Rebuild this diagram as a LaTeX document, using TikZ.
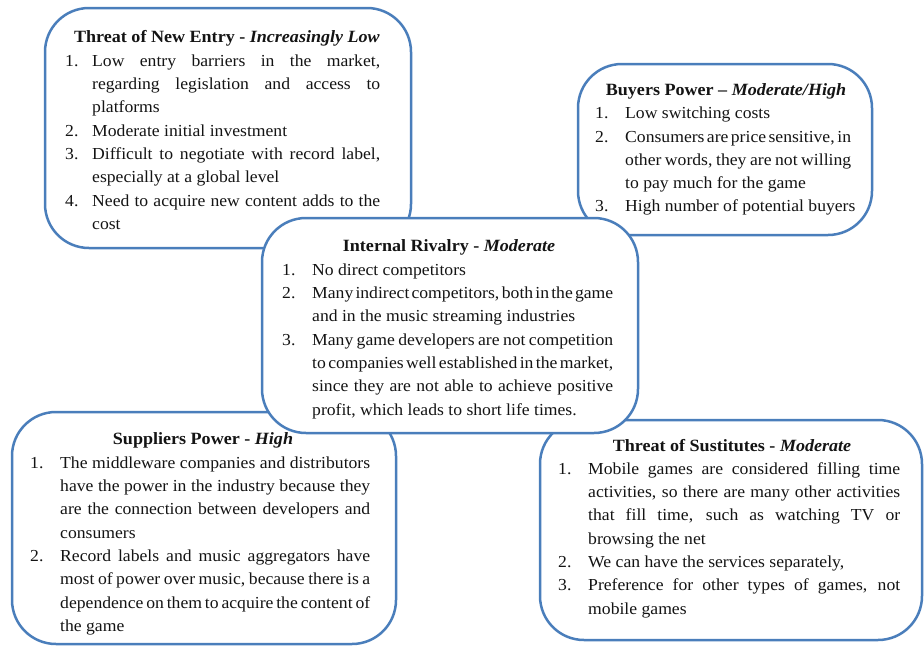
\documentclass[tikz,border=0pt]{standalone}
\usepackage{fontspec}
\setmainfont{Liberation Serif}[FakeStretch=1.05]
\definecolor{edge}{RGB}{74,126,187}
\definecolor{ink}{RGB}{20,20,20}
\newlength\lw
\newlength\jw
\newcommand{\J}[1]{\makebox[\jw][s]{\spaceskip=.25em plus 1fil minus .17em\relax #1}}
\newcommand{\lab}[1]{\makebox[\lw][l]{#1}}
\newcommand{\ind}{\hspace*{\lw}}
\newcommand{\setup}[2]{\setlength\lw{#1}\setlength\jw{#2}\spaceskip=0pt\xspaceskip=0pt\noindent\strut}
\begin{document}
\begin{tikzpicture}[x=1pt,y=-1pt,
  pbox/.style={draw=edge, line width=2.5pt, rounded corners=44pt, fill=white, inner sep=0pt},
  ptext/.style={anchor=north west, inner sep=0pt, align=left, text=ink,
    font=\fontsize{16.8}{23.3}\selectfont},
  ptitle/.style={anchor=base, inner sep=0pt, text=ink, font=\fontsize{17.2}{23.3}\selectfont\bfseries}]
\useasboundingbox (0,0) rectangle (924,646);

% Threat of New Entry
\node[pbox, minimum width=366pt, minimum height=240pt] (b1) at (228,128) {};
\node[ptitle] (h1) at (227,42) {Threat of New Entry - \textit{Increasingly Low}};
\node[ptext, text width=330pt] (t1) at (65,49.69) {\setup{27pt}{288pt}%
\lab{1.}\J{Low entry barriers in the market,}\\
\ind\J{regarding legislation and access to}\\
\ind platforms\\
\lab{2.}Moderate initial investment\\
\lab{3.}\J{Difficult to negotiate with record label,}\\
\ind especially at a global level\\
\lab{4.}\J{Need to acquire new content adds to the}\\
\ind cost};

% Buyers Power
\node[pbox, minimum width=294pt, minimum height=171pt] (b2) at (725,149.5) {};
\node[ptitle] (h2) at (726,95) {Buyers Power -- \textit{Moderate/High}};
\node[ptext, text width=270pt] (t2) at (595,102.19) {\setup{30pt}{226pt}%
\lab{1.}Low switching costs\\
\lab{2.}\J{Consumers are price sensitive, in}\\
\ind\J{other words, they are not willing}\\
\ind to pay much for the game\\
\lab{3.}High number of potential buyers};

% Suppliers Power
\node[pbox, minimum width=384pt, minimum height=232pt] (b4) at (204,528) {};
\node[ptitle] (h4) at (203,444) {Suppliers Power - \textit{High}};
\node[ptext, text width=355pt] (t4) at (30,451.69) {\setup{30pt}{310pt}%
\lab{1.}\J{The middleware companies and distributors}\\
\ind\J{have the power in the industry because they}\\
\ind\J{are the connection between developers and}\\
\ind consumers\\
\lab{2.}\J{Record labels and music aggregators have}\\
\ind\J{most of power over music, because there is a}\\
\ind\J{dependence on them to acquire the content of}\\
\ind the game};

% Threat of Substitutes
\node[pbox, minimum width=382pt, minimum height=220pt] (b5) at (731,530) {};
\node[ptitle] (h5) at (732,451) {Threat of Sustitutes - \textit{Moderate}};
\node[ptext, text width=357pt] (t5) at (558,457.69) {\setup{30pt}{312pt}%
\lab{1.}\J{Mobile games are considered filling time}\\
\ind\J{activities, so there are many other activities}\\
\ind\J{that fill time, such as watching TV or}\\
\ind browsing the net\\
\lab{2.}We can have the services separately,\\
\lab{3.}\J{Preference for other types of games, not}\\
\ind mobile games};

% Internal Rivalry (on top)
\node[pbox, minimum width=376pt, minimum height=215pt] (b3) at (450,325.5) {};
\node[ptitle] (h3) at (449,251) {Internal Rivalry - \textit{Moderate}};
\node[ptext, text width=345pt] (t3) at (282,258.69) {\setup{30pt}{301pt}%
\lab{1.}No direct competitors\\
\lab{2.}\J{Many indirect competitors, both in the game}\\
\ind and in the music streaming industries\\
\lab{3.}\J{Many game developers are not competition}\\
\ind\J{to companies well established in the market,}\\
\ind\J{since they are not able to achieve positive}\\
\ind profit, which leads to short life times.};
\end{tikzpicture}
\end{document}
